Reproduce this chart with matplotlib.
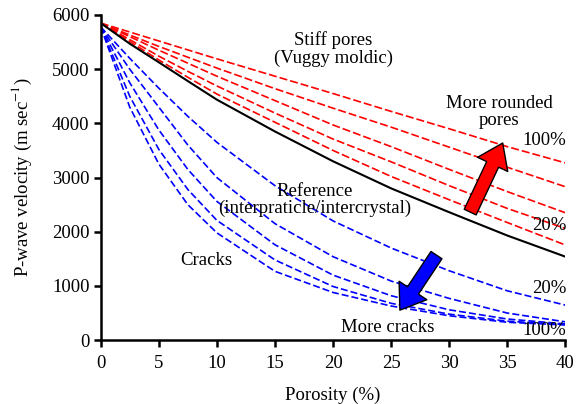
import numpy as np
import matplotlib
matplotlib.use("Agg")
import matplotlib.pyplot as plt

plt.rcParams["font.family"] = ["Liberation Serif", "DejaVu Serif"]
plt.rcParams["mathtext.fontset"] = "stix"

# ----------------------------
# Data
# ----------------------------
porosity = [0, 2.5, 5, 7.5, 10, 15, 20, 25, 30, 35, 40]

reference = [5850, 5470, 5127, 4780, 4437, 3850, 3300, 2800, 2360, 1930, 1540]

# stiff pores, from 100% (top) to 20% (bottom)
red_curves = [
    [5850, 5685, 5520, 5355, 5190, 4870, 4550, 4220, 3900, 3570, 3270],
    [5850, 5630, 5420, 5220, 5020, 4640, 4280, 3930, 3560, 3190, 2830],
    [5850, 5600, 5350, 5110, 4870, 4420, 3970, 3570, 3150, 2740, 2350],
    [5850, 5545, 5240, 4960, 4690, 4190, 3710, 3290, 2850, 2430, 2060],
    [5850, 5510, 5170, 4850, 4540, 4020, 3500, 3020, 2590, 2170, 1755],
]

# cracks, from 20% (top) to 100% (bottom)
blue_curves = [
    [5780, 5200, 4650, 4130, 3650, 2850, 2200, 1700, 1280, 910, 646],
    [5780, 5000, 4300, 3600, 3000, 2150, 1540, 1090, 770, 500, 338],
    [5780, 4750, 3880, 3150, 2560, 1760, 1200, 820, 560, 390, 300],
    [5780, 4500, 3520, 2780, 2210, 1480, 990, 680, 480, 350, 290],
    [5780, 4300, 3250, 2500, 1980, 1270, 880, 630, 450, 330, 280],
]

x_ticks = [0, 5, 10, 15, 20, 25, 30, 35, 40]
y_ticks = [0, 1000, 2000, 3000, 4000, 5000, 6000]

# ----------------------------
# Plot
# ----------------------------
fig = plt.figure(figsize=(5.77, 4.04), dpi=100)
ax = fig.add_axes([0.1745, 0.158, 0.8055, 0.805])

for vals in red_curves:
    ax.plot(porosity, vals, color="red", lw=1.2, dashes=(4.8, 1.8))
for vals in blue_curves:
    ax.plot(porosity, vals, color="blue", lw=1.2, dashes=(4.2, 1.8))
ax.plot(porosity, reference, color="black", lw=1.5)

ax.set_xlim(0, 40)
ax.set_ylim(0, 6000)
ax.set_xticks(x_ticks)
ax.set_yticks(y_ticks)
for s in ["top", "right"]:
    ax.spines[s].set_visible(False)
for s in ["left", "bottom"]:
    ax.spines[s].set_linewidth(1.8)
ax.tick_params(direction="out", length=5, width=1.8, labelsize=13.5)
ax.tick_params(axis="x", pad=6)
ax.tick_params(axis="y", pad=3)

ax.set_xlabel("Porosity (%)", fontsize=13.5, labelpad=10)
ax.set_ylabel(r"P-wave velocity (m sec$^{-1}$)", fontsize=13.5, labelpad=13)

fs = 13.5
ax.text(20.0, 5372, "Stiff pores\n(Vuggy moldic)", ha="center", va="center",
        fontsize=fs, linespacing=1.05)
ax.text(34.3, 4209, "More rounded\npores", ha="center", va="center",
        fontsize=fs, linespacing=1.0)
ax.text(40.1, 3679, "100%", ha="right", va="center", fontsize=fs)
ax.text(40.1, 2123, "20%", ha="right", va="center", fontsize=fs)
ax.text(18.45, 2584, "Reference\n(interpraticle/intercrystal)", ha="center",
        va="center", fontsize=fs, linespacing=1.0)
ax.text(9.1, 1477, "Cracks", ha="center", va="center", fontsize=fs)
ax.text(40.1, 954, "20%", ha="right", va="center", fontsize=fs)
ax.text(24.7, 227, "More cracks", ha="center", va="center", fontsize=fs)
ax.text(40.1, 172, "100%", ha="right", va="center", fontsize=fs)

arrow_style = "simple,head_width=2.4,head_length=1.7,tail_width=0.95"
ax.annotate("", xy=(34.6, 3637), xytext=(31.8, 2363),
            arrowprops=dict(arrowstyle=arrow_style, mutation_scale=10,
                            fc="red", ec="black", lw=1, shrinkA=0, shrinkB=0))
ax.annotate("", xy=(25.75, 554), xytext=(28.9, 1569),
            arrowprops=dict(arrowstyle=arrow_style, mutation_scale=10,
                            fc="blue", ec="black", lw=1, shrinkA=0, shrinkB=0))

fig.savefig("out.png", dpi=100)
